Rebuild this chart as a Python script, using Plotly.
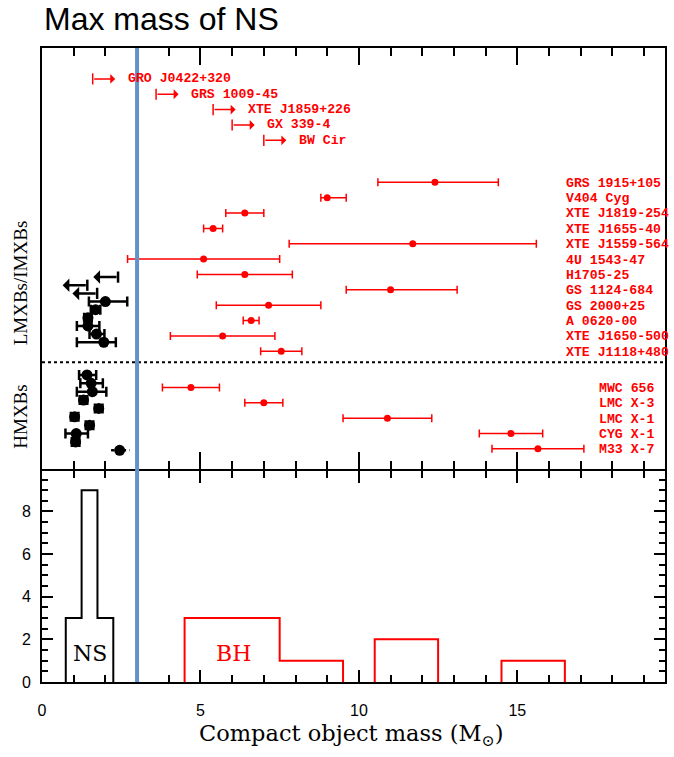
import numpy as np
import plotly.graph_objects as go

# ---------------- data ----------------
# BH lower limits (LMXBs)
ll_names = ["GRO J0422+320", "GRS 1009-45", "XTE J1859+226", "GX 339-4", "BW Cir"]
ll_mass = [1.6, 3.6, 5.4, 6.0, 7.0]

# BH in LMXBs/IMXBs
lmxb_bh_names = ["GRS 1915+105", "V404 Cyg", "XTE J1819-254", "XTE J1655-40",
                 "XTE J1559-564", "4U 1543-47", "H1705-25", "GS 1124-684",
                 "GS 2000+25", "A 0620-00", "XTE J1650-500", "XTE J1118+480"]
lmxb_bh_mass = [12.4, 9.0, 6.4, 5.4, 11.7, 5.1, 6.4, 11.0, 7.15, 6.6, 5.7, 7.55]
lmxb_bh_lo = [1.8, 0.2, 0.6, 0.3, 3.9, 2.4, 1.5, 1.4, 1.65, 0.25, 1.65, 0.65]
lmxb_bh_hi = [2.0, 0.6, 0.6, 0.3, 3.9, 2.4, 1.5, 2.1, 1.65, 0.25, 1.65, 0.65]

# BH in HMXBs
hmxb_bh_names = ["MWC 656", "LMC X-3", "LMC X-1", "CYG X-1", "M33 X-7"]
hmxb_bh_mass = [4.7, 7.0, 10.9, 14.8, 15.65]
hmxb_bh_lo = [0.9, 0.6, 1.4, 1.0, 1.45]
hmxb_bh_hi = [0.9, 0.6, 1.4, 1.0, 1.45]

# NS in LMXBs: upper limits, then measurements
ns_lmxb_ul = [2.4, 1.43, 1.74]
ns_lmxb_mass = [2.0, 1.69, 1.45, 1.45, 1.72, 1.95]
ns_lmxb_lo = [0.52, 0.15, 0.12, 0.35, 0.22, 0.85]
ns_lmxb_hi = [0.69, 0.15, 0.12, 0.36, 0.25, 0.38]

# NS in HMXBs
ns_hmxb_mass = [1.42, 1.55, 1.59, 1.31, 1.79, 1.03, 1.50, 1.08, 1.06]
ns_hmxb_lo = [0.25, 0.34, 0.49, 0.12, 0.12, 0.12, 0.12, 0.34, 0.12]
ns_hmxb_hi = [0.29, 0.37, 0.44, 0.12, 0.12, 0.12, 0.12, 0.37, 0.12]
ns_hmxb_unc_mass = [2.45]
ns_hmxb_unc_lo = [0.27]
ns_hmxb_unc_hi = [0.31]

# histogram bins
ns_edges = np.arange(0.75, 2.26, 0.5)
bh_edges = np.arange(0.5, 19.6, 1.0)

MAX_NS = 3.0

# ---------------- layout helpers ----------------
ll_rows = np.arange(len(ll_mass)) * 1.0
lmxb_bh_rows = 6.73 + np.arange(len(lmxb_bh_mass))
hmxb_bh_rows = 20.08 + np.arange(len(hmxb_bh_mass))
ns_lmxb_rows = 12.9 + 0.53 * np.arange(len(ns_lmxb_ul) + len(ns_lmxb_mass))
ns_hmxb_rows = 19.27 + 0.545 * np.arange(len(ns_hmxb_mass) + len(ns_hmxb_unc_mass))
sep_row = 18.44

RED = "#ff0000"
BLUE = "rgb(98,146,202)"
LABFONT = dict(family="Liberation Mono", size=13.2, color=RED, weight="bold")

fig = go.Figure()

# histograms (bottom panel)
def step_path(values, edges):
    counts, _ = np.histogram(values, bins=edges)
    xs, ys = [], []
    i = 0
    n = len(counts)
    while i < n:
        if counts[i] == 0:
            i += 1
            continue
        xs.append(edges[i]); ys.append(0)
        while i < n and counts[i] > 0:
            xs += [edges[i], edges[i + 1]]
            ys += [counts[i], counts[i]]
            i += 1
        xs.append(edges[i]); ys.append(0)
        xs.append(None); ys.append(None)
    return xs, ys

ns_all = ns_lmxb_mass + ns_hmxb_mass
bh_all = lmxb_bh_mass + hmxb_bh_mass
hx, hy = step_path(ns_all, ns_edges)
fig.add_trace(go.Scatter(x=hx, y=hy, mode="lines", line=dict(color="black", width=2),
                         xaxis="x", yaxis="y", hoverinfo="skip", showlegend=False))
hx, hy = step_path(bh_all, bh_edges)
fig.add_trace(go.Scatter(x=hx, y=hy, mode="lines", line=dict(color=RED, width=2),
                         xaxis="x", yaxis="y", hoverinfo="skip", showlegend=False))

# red BH points with error bars (top panel)
for mass, lo, hi, rows in [(lmxb_bh_mass, lmxb_bh_lo, lmxb_bh_hi, lmxb_bh_rows),
                           (hmxb_bh_mass, hmxb_bh_lo, hmxb_bh_hi, hmxb_bh_rows)]:
    fig.add_trace(go.Scatter(
        x=mass, y=rows, mode="markers", xaxis="x2", yaxis="y2",
        marker=dict(color=RED, size=7),
        error_x=dict(type="data", symmetric=False, array=hi, arrayminus=lo,
                     color=RED, thickness=1.5, width=4),
        showlegend=False))

# red lower-limit caps
fig.add_trace(go.Scatter(
    x=ll_mass, y=ll_rows, mode="markers", xaxis="x2", yaxis="y2",
    marker=dict(symbol="line-ns", size=8, line=dict(color=RED, width=1.5)),
    showlegend=False))

# black NS measurements
ul_n = len(ns_lmxb_ul)
fig.add_trace(go.Scatter(
    x=ns_lmxb_mass, y=ns_lmxb_rows[ul_n:], mode="markers", xaxis="x2", yaxis="y2",
    marker=dict(color="black", size=11),
    error_x=dict(type="data", symmetric=False, array=ns_lmxb_hi, arrayminus=ns_lmxb_lo,
                 color="black", thickness=2.5, width=5),
    showlegend=False))
fig.add_trace(go.Scatter(
    x=ns_hmxb_mass, y=ns_hmxb_rows[:len(ns_hmxb_mass)], mode="markers", xaxis="x2", yaxis="y2",
    marker=dict(color="black", size=11),
    error_x=dict(type="data", symmetric=False, array=ns_hmxb_hi, arrayminus=ns_hmxb_lo,
                 color="black", thickness=2.5, width=5),
    showlegend=False))
# uncertain NS (dotted error bar)
unc_rows = ns_hmxb_rows[len(ns_hmxb_mass):]
for m, lo, hi, r in zip(ns_hmxb_unc_mass, ns_hmxb_unc_lo, ns_hmxb_unc_hi, unc_rows):
    fig.add_trace(go.Scatter(x=[m - lo, m + hi], y=[r, r], mode="lines", xaxis="x2", yaxis="y2",
                             line=dict(color="black", width=2.5, dash="dot"), showlegend=False))
fig.add_trace(go.Scatter(x=ns_hmxb_unc_mass, y=unc_rows, mode="markers", xaxis="x2", yaxis="y2",
                         marker=dict(color="black", size=11), showlegend=False))

# black upper-limit caps
fig.add_trace(go.Scatter(
    x=ns_lmxb_ul, y=ns_lmxb_rows[:ul_n], mode="markers", xaxis="x2", yaxis="y2",
    marker=dict(symbol="line-ns", size=8, line=dict(color="black", width=2.5)),
    showlegend=False))

annotations = []
RED_ARROW = 0.71
BLK_ARROW = 0.78
for m, r, name in zip(ll_mass, ll_rows, ll_names):
    annotations.append(dict(x=m + RED_ARROW, y=r, ax=m, ay=r, xref="x2", yref="y2",
                            axref="x2", ayref="y2", text=" ", showarrow=True,
                            arrowhead=1, arrowsize=1.1, arrowwidth=1.5, arrowcolor=RED,
                            standoff=0, startstandoff=0, font=dict(size=1)))
    annotations.append(dict(x=m + 1.07, y=r, xref="x2", yref="y2", text=name,
                            showarrow=False, xanchor="left", yanchor="middle",
                            font=LABFONT, borderpad=0))
for m, r in zip(ns_lmxb_ul, ns_lmxb_rows[:ul_n]):
    annotations.append(dict(x=m - BLK_ARROW, y=r, ax=m, ay=r, xref="x2", yref="y2",
                            axref="x2", ayref="y2", text=" ", showarrow=True,
                            arrowhead=1, arrowsize=0.9, arrowwidth=2.5, arrowcolor="black",
                            standoff=0, startstandoff=0, font=dict(size=1)))
for names, rows, lx in [(lmxb_bh_names, lmxb_bh_rows, 16.5), (hmxb_bh_names, hmxb_bh_rows, 17.53)]:
    for name, r in zip(names, rows):
        annotations.append(dict(x=lx, y=r + 0.06, xref="x2", yref="y2", text=name,
                                showarrow=False, xanchor="left", yanchor="middle",
                                font=LABFONT, borderpad=0))

# panel/axis texts
annotations += [
    dict(x=1.52, y=1.33, xref="x", yref="y", text="NS", showarrow=False,
         font=dict(family="DejaVu Serif", size=22, color="black")),
    dict(x=6.04, y=1.33, xref="x", yref="y", text="BH", showarrow=False,
         font=dict(family="DejaVu Serif", size=22, color=RED)),
    dict(x=-0.034, y=13.25, xref="paper", yref="y2", text="LMXBs/IMXBs", textangle=-90,
         xanchor="center", yanchor="middle",
         showarrow=False, font=dict(family="Liberation Serif", size=19, color="black")),
    dict(x=-0.034, y=22.0, xref="paper", yref="y2", text="HMXBs", textangle=-90,
         xanchor="center", yanchor="middle",
         showarrow=False, font=dict(family="Liberation Serif", size=19, color="black")),
    dict(x=0.496, y=-0.0835, xref="paper", yref="paper", yanchor="middle", xanchor="center",
         text="Compact object mass (M<sub>\u2299</sub>)", showarrow=False,
         font=dict(family="DejaVu Serif", size=22.5, color="black")),
    dict(x=0.0, y=1.045, xref="paper", yref="paper", xanchor="left", yanchor="middle",
         text="Max mass of NS", showarrow=False,
         font=dict(family="Liberation Sans", size=32, color="black")),
]

shapes = [
    dict(type="line", xref="x2 domain", x0=0, x1=1, yref="y2", y0=sep_row, y1=sep_row,
         line=dict(color="black", width=2, dash="dot")),
    dict(type="line", xref="x", x0=MAX_NS, x1=MAX_NS, yref="paper", y0=0, y1=1,
         line=dict(color=BLUE, width=4), layer="above"),
]

PLOT_H = 757 - 48 - 75
split = 212.0 / PLOT_H
gap = 1.0 / PLOT_H
axis_common = dict(showline=True, linewidth=2, linecolor="black", showgrid=False,
                   zeroline=False, ticks="inside", tickcolor="black", tickwidth=1.5)
fig.update_layout(
    width=674, height=757,
    margin=dict(l=42, r=7, t=48, b=75),
    paper_bgcolor="white", plot_bgcolor="white",
    showlegend=False,
    xaxis=dict(domain=[0, 1], range=[0, 19.66], anchor="y", dtick=5, tick0=0,
               ticklen=12, mirror="allticks",
               minor=dict(dtick=1, ticklen=7, ticks="inside", tickcolor="black", tickwidth=1.5),
               tickfont=dict(family="Liberation Sans", size=16, color="black"),
               ticklabelstandoff=13, **axis_common),
    yaxis=dict(domain=[0, split - gap], range=[0, 9.9], anchor="x", dtick=2, tick0=0,
               ticklen=11, mirror="allticks",
               minor=dict(dtick=0.5, ticklen=6, ticks="inside", tickcolor="black", tickwidth=1.5),
               tickfont=dict(family="Liberation Sans", size=16, color="black"),
               ticklabelstandoff=6, **axis_common),
    xaxis2=dict(domain=[0, 1], matches="x", anchor="y2", dtick=5, tick0=0, range=[0, 19.66],
                ticklen=17, mirror="allticks", showticklabels=False,
                minor=dict(dtick=1, ticklen=8, ticks="inside", tickcolor="black", tickwidth=1.5),
                **axis_common),
    yaxis2=dict(domain=[split + gap, 1], range=[25.39, -2.01], anchor="x2",
                showline=True, linewidth=2, linecolor="black", mirror=True,
                showgrid=False, zeroline=False, ticks="", showticklabels=False),
    annotations=annotations,
    shapes=shapes,
)

fig.write_html("out.html", config={"displayModeBar": False},
               post_script="document.body.style.margin='0px';")
